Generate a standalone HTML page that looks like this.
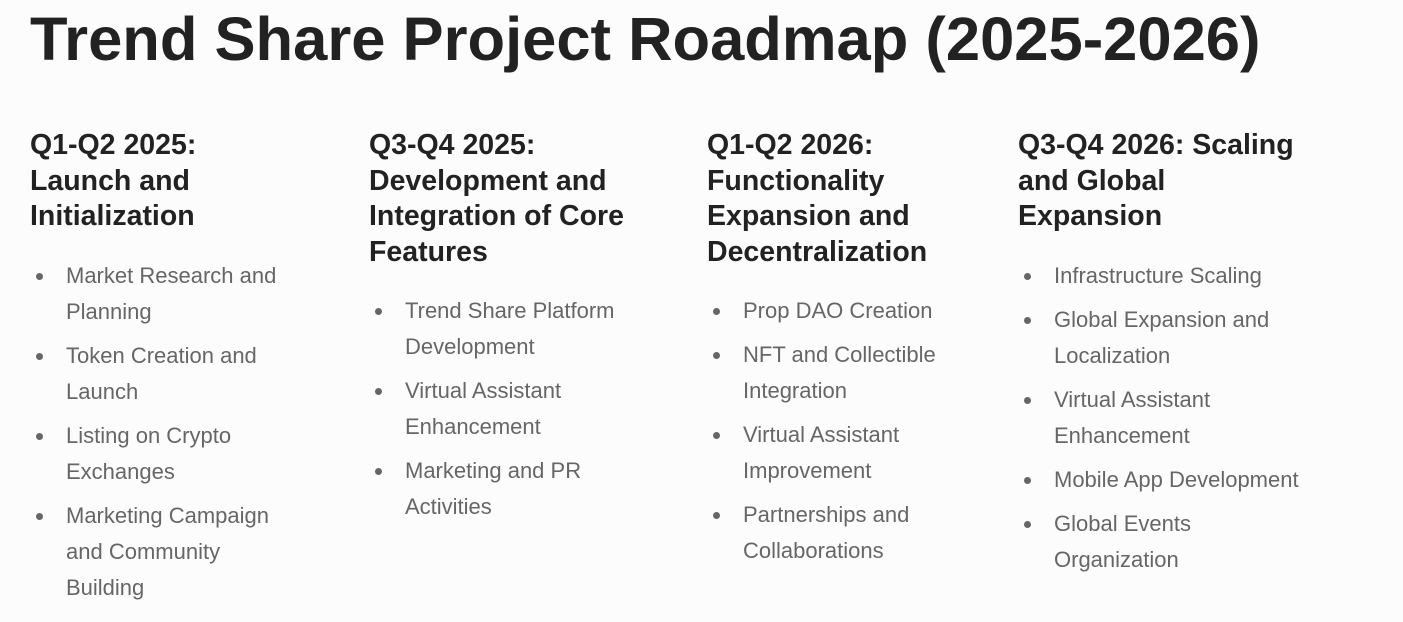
<!DOCTYPE html>
<html><head><meta charset="utf-8"><style>
body{margin:0;width:1403px;height:622px;background:#fcfcfc;font-family:"Liberation Sans",sans-serif;overflow:hidden;position:relative}
h1{position:absolute;left:30px;top:2px;margin:0;font-size:61.5px;font-weight:bold;color:#222;white-space:nowrap;line-height:76px}
.col{position:absolute;top:128px}
.col h2{margin:0;font-size:28.5px;line-height:35.5px;font-weight:bold;color:#222;white-space:nowrap}
.col ul{margin:23px 0 0 0;padding:0;list-style:none}
.col li{position:relative;padding-left:36px;font-size:22px;line-height:36px;color:#666;white-space:nowrap;margin-bottom:8px}
.col li:before{content:"";position:absolute;left:6px;top:15px;width:7px;height:7px;border-radius:50%;background:#666}
</style></head><body>
<h1>Trend Share Project Roadmap (2025-2026)</h1>
<div class="col" style="left:30px"><h2>Q1-Q2 2025:<br>Launch and<br>Initialization</h2>
<ul><li>Market Research and<br>Planning</li><li>Token Creation and<br>Launch</li><li>Listing on Crypto<br>Exchanges</li><li>Marketing Campaign<br>and Community<br>Building</li></ul></div>
<div class="col" style="left:369px"><h2>Q3-Q4 2025:<br>Development and<br>Integration of Core<br>Features</h2>
<ul><li>Trend Share Platform<br>Development</li><li>Virtual Assistant<br>Enhancement</li><li>Marketing and PR<br>Activities</li></ul></div>
<div class="col" style="left:707px"><h2>Q1-Q2 2026:<br>Functionality<br>Expansion and<br>Decentralization</h2>
<ul><li>Prop DAO Creation</li><li>NFT and Collectible<br>Integration</li><li>Virtual Assistant<br>Improvement</li><li>Partnerships and<br>Collaborations</li></ul></div>
<div class="col" style="left:1018px"><h2>Q3-Q4 2026: Scaling<br>and Global<br>Expansion</h2>
<ul><li>Infrastructure Scaling</li><li>Global Expansion and<br>Localization</li><li>Virtual Assistant<br>Enhancement</li><li>Mobile App Development</li><li>Global Events<br>Organization</li></ul></div>
</body></html>
